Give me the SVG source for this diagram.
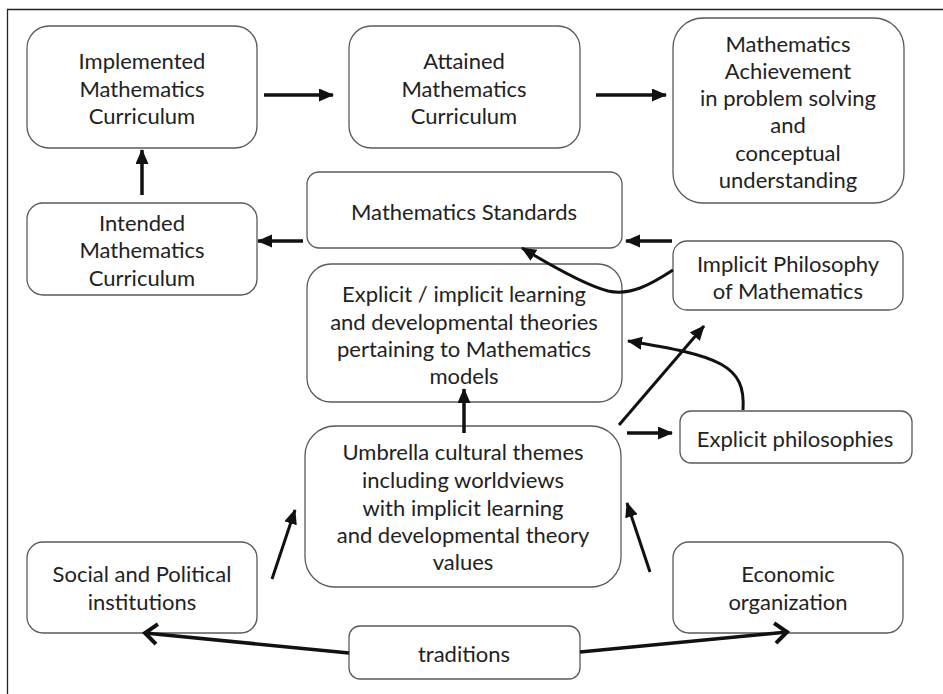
<svg xmlns="http://www.w3.org/2000/svg" width="943" height="694" viewBox="0 0 943 694">
<defs>
<style>
.box{fill:#fff;stroke:#5a5a5a;stroke-width:1.3}
.t{font-family:Lato,"Open Sans","Liberation Sans",sans-serif;font-size:22px;fill:#222;text-anchor:middle}
.c{fill:none;stroke:#111;stroke-width:3.5}
.cc{fill:none;stroke:#111;stroke-width:3}
</style>
<marker id="ah" markerUnits="userSpaceOnUse" markerWidth="17" markerHeight="14" refX="14" refY="6.5" orient="auto">
<path d="M0,0 L15,6.5 L0,13 Z" fill="#111"/>
</marker>
<marker id="av" markerUnits="userSpaceOnUse" markerWidth="22" markerHeight="26" refX="17" refY="13" orient="auto" overflow="visible">
<path d="M5,3 L17,13 L5,23" fill="none" stroke="#111" stroke-width="4"/>
</marker>
</defs>
<rect width="943" height="694" fill="#fff"/>
<path d="M7.5,694 V9.5 H943" fill="none" stroke="#222" stroke-width="1.3"/>

<g id="implemented">
<rect class="box" x="27" y="26" width="230" height="122" rx="22"/>
<text class="t" x="142" y="69">Implemented</text>
<text class="t" x="142" y="97">Mathematics</text>
<text class="t" x="142" y="124">Curriculum</text>
</g>
<g id="attained">
<rect class="box" x="349" y="26" width="231" height="122" rx="22"/>
<text class="t" x="464" y="69">Attained</text>
<text class="t" x="464" y="97">Mathematics</text>
<text class="t" x="464" y="124">Curriculum</text>
</g>
<g id="achievement">
<rect class="box" x="673" y="18" width="231" height="185" rx="30"/>
<text class="t" x="788" y="52">Mathematics</text>
<text class="t" x="788" y="79">Achievement</text>
<text class="t" x="788" y="106">in problem solving</text>
<text class="t" x="788" y="133">and</text>
<text class="t" x="788" y="161">conceptual</text>
<text class="t" x="788" y="188">understanding</text>
</g>
<g id="intended">
<rect class="box" x="27" y="203" width="230" height="92" rx="16"/>
<text class="t" x="142" y="231">Intended</text>
<text class="t" x="142" y="258">Mathematics</text>
<text class="t" x="142" y="286">Curriculum</text>
</g>
<g id="standards">
<rect class="box" x="307" y="172" width="315" height="76" rx="12"/>
<text class="t" x="464" y="220">Mathematics Standards</text>
</g>
<g id="implicit-philosophy">
<rect class="box" x="673" y="241" width="230" height="69" rx="14"/>
<text class="t" x="788" y="272">Implicit Philosophy</text>
<text class="t" x="788" y="299">of Mathematics</text>
</g>
<g id="theories">
<rect class="box" x="307" y="264" width="315" height="138" rx="24"/>
<text class="t" x="464" y="302">Explicit / implicit learning</text>
<text class="t" x="464" y="330">and developmental theories</text>
<text class="t" x="464" y="357">pertaining to Mathematics</text>
<text class="t" x="464" y="384">models</text>
</g>
<g id="explicit-philosophies">
<rect class="box" x="680" y="411" width="232" height="52" rx="11"/>
<text class="t" x="795" y="447">Explicit philosophies</text>
</g>
<g id="umbrella">
<rect class="box" x="305" y="426" width="316" height="161" rx="30"/>
<text class="t" x="463" y="460">Umbrella cultural themes</text>
<text class="t" x="463" y="488">including worldviews</text>
<text class="t" x="463" y="516">with implicit learning</text>
<text class="t" x="463" y="543">and developmental theory</text>
<text class="t" x="463" y="570">values</text>
</g>
<g id="social">
<rect class="box" x="27" y="542" width="230" height="91" rx="16"/>
<text class="t" x="142" y="582">Social and Political</text>
<text class="t" x="142" y="610">institutions</text>
</g>
<g id="economic">
<rect class="box" x="673" y="542" width="230" height="91" rx="16"/>
<text class="t" x="788" y="582">Economic</text>
<text class="t" x="788" y="610">organization</text>
</g>
<g id="traditions">
<rect class="box" x="349" y="626" width="231" height="53" rx="11"/>
<text class="t" x="464" y="662">traditions</text>
</g>

<g id="connectors">
<line class="c" x1="264" y1="95" x2="333" y2="95" marker-end="url(#ah)"/>
<line class="c" x1="596" y1="95" x2="666" y2="95" marker-end="url(#ah)"/>
<line class="c" x1="142" y1="195" x2="142" y2="150" marker-end="url(#ah)"/>
<line class="c" x1="303" y1="241" x2="258" y2="241" marker-end="url(#ah)"/>
<line class="c" x1="672" y1="241" x2="626" y2="241" marker-end="url(#ah)"/>
<path class="cc" d="M673,270 C650,285 630,296 608,291 C585,285 550,265 522,248" marker-end="url(#ah)"/>
<path class="cc" d="M743,410 C746,365 720,356 628,341" marker-end="url(#ah)"/>
<line class="cc" x1="619" y1="425" x2="704" y2="326" marker-end="url(#ah)"/>
<line class="c" x1="464" y1="433" x2="464" y2="389" marker-end="url(#ah)"/>
<line class="c" x1="627" y1="433" x2="672" y2="433" marker-end="url(#ah)"/>
<line class="cc" x1="272" y1="579" x2="295" y2="510" marker-end="url(#ah)"/>
<line class="cc" x1="650" y1="572" x2="627" y2="503" marker-end="url(#ah)"/>
<line class="c" x1="349" y1="653" x2="145" y2="633" marker-end="url(#av)"/>
<line class="c" x1="580" y1="652" x2="787" y2="632" marker-end="url(#av)"/>
</g>
</svg>
